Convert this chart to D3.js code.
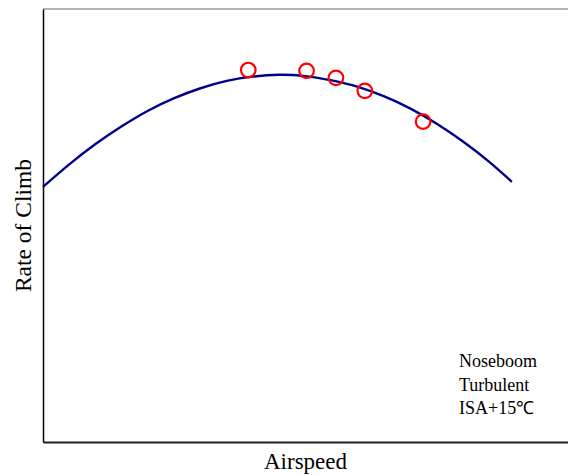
<!DOCTYPE html>
<html>
<head>
<meta charset="utf-8">
<script src="https://cdn.jsdelivr.net/npm/d3@7"></script>
<style>
  html, body { margin: 0; padding: 0; background: #fff; }
  svg { display: block; }
  text { font-family: "Liberation Serif", "Times New Roman", serif; fill: #000; }
</style>
</head>
<body>
<svg id="chart" width="568" height="475"></svg>
<script>
// Fitted climb-performance curve (relative units)
const curveAirspeed = [0, 5, 10, 15, 20, 25, 30, 35, 40, 45, 50, 55, 60, 65, 70, 75, 80, 85, 89.3];
const curveRate     = [58.9, 64.1, 68.8, 72.9, 76.5, 79.4, 81.7, 83.4, 84.4, 84.8, 84.5, 83.5, 82.0, 79.8, 77.0, 73.5, 69.4, 64.7, 60.1];

// Flight-test measurements
const testAirspeed = [39.1, 50.2, 55.8, 61.3, 72.4];
const testRate     = [85.9, 85.7, 84.1, 81.1, 74.0];

const noteLines = ["Noseboom", "Turbulent", "ISA+15\u2103"];

const svg = d3.select("#chart");
const margin = { left: 43, top: 9, right: 0, bottom: 33 };
const W = 568, H = 475;

const x = d3.scaleLinear().domain([0, 100]).range([margin.left, W - margin.right]);
const y = d3.scaleLinear().domain([0, 100]).range([H - margin.bottom, margin.top]);

// Frame: light top edge, dark left and bottom axes
svg.append("line")
  .attr("x1", x(0)).attr("x2", x(100))
  .attr("y1", y(100)).attr("y2", y(100))
  .attr("stroke", "#b4b4b4").attr("stroke-width", 2);

svg.append("g")
  .attr("transform", `translate(0,${y(0)})`)
  .call(d3.axisBottom(x).tickValues([]).tickSizeOuter(0))
  .call(g => g.select(".domain").attr("stroke", "#222").attr("stroke-width", 1.8));

svg.append("g")
  .attr("transform", `translate(${x(0)},0)`)
  .call(d3.axisLeft(y).tickValues([]).tickSizeOuter(0))
  .call(g => g.select(".domain").attr("stroke", "#000").attr("stroke-width", 1.5));

// Fitted curve
const pts = curveAirspeed.map((v, i) => [v, curveRate[i]]);
svg.append("path")
  .datum(pts)
  .attr("fill", "none")
  .attr("stroke", "#00008b")
  .attr("stroke-width", 2.4)
  .attr("d", d3.line().x(d => x(d[0])).y(d => y(d[1])).curve(d3.curveNatural));

// Measured points
svg.append("g")
  .selectAll("circle")
  .data(testAirspeed.map((v, i) => [v, testRate[i]]))
  .join("circle")
  .attr("cx", d => x(d[0]))
  .attr("cy", d => y(d[1]))
  .attr("r", 7.3)
  .attr("fill", "none")
  .attr("stroke", "#ff0000")
  .attr("stroke-width", 2.2);

// Axis titles
svg.append("text")
  .attr("x", (x(0) + x(100)) / 2)
  .attr("y", 469)
  .attr("text-anchor", "middle")
  .attr("font-size", 23)
  .text("Airspeed");

svg.append("text")
  .attr("transform", `translate(31,${(y(0) + y(100)) / 2}) rotate(-90)`)
  .attr("text-anchor", "middle")
  .attr("font-size", 23.5)
  .text("Rate of Climb");

// Test conditions note
svg.append("g")
  .selectAll("text")
  .data(noteLines)
  .join("text")
  .attr("x", 459)
  .attr("y", (d, i) => 367 + i * 23.5)
  .attr("font-size", 18)
  .text(d => d);
</script>
</body>
</html>
